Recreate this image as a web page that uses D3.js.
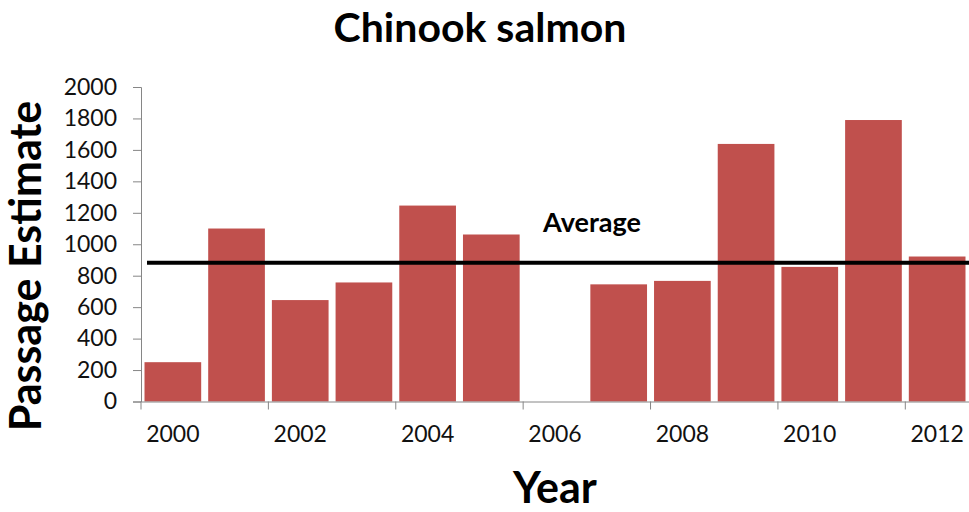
<!DOCTYPE html>
<html>
<head>
<meta charset="utf-8">
<script src="https://cdn.jsdelivr.net/npm/d3@7"></script>
<style>
  body { margin: 0; background: #fff; }
  text { font-family: Lato, "Open Sans", sans-serif; }
</style>
</head>
<body>
<div id="chart"></div>
<script>
// donnees
let years = ['2000','2001','2002','2003','2004','2005','2006','2007','2008','2009','2010','2011','2012'];
let passage = [250, 1100, 645, 757, 1246, 1062, 0, 745, 767, 1638, 856, 1790, 922];
let yTicks = [0, 200, 400, 600, 800, 1000, 1200, 1400, 1600, 1800, 2000];
let xLabels = ['2000','2002','2004','2006','2008','2010','2012'];
let average = 882;

let width = 969, height = 512;
let plotLeft = 141, plotRight = 969, plotTop = 87, plotBottom = 401.5;
let color = '#C0504D';

let svg = d3.select('#chart').append('svg')
    .attr('width', width)
    .attr('height', height);

let x = d3.scaleBand()
    .domain(years)
    .range([plotLeft, plotRight])
    .paddingInner(0.11)
    .paddingOuter(0.055);

let y = d3.scaleLinear()
    .domain([0, 2000])
    .range([plotBottom, plotTop]);

// barres
svg.append('g').selectAll('rect')
    .data(years.map((d, i) => ({year: d, value: passage[i]})))
    .join('rect')
    .attr('x', d => x(d.year))
    .attr('y', d => y(d.value))
    .attr('width', x.bandwidth())
    .attr('height', d => plotBottom - y(d.value))
    .attr('fill', color);

// axe y
let yAxis = svg.append('g')
    .attr('transform', 'translate(' + plotLeft + ',0)')
    .call(d3.axisLeft(y).tickValues(yTicks).tickSize(8).tickPadding(16).tickFormat(d3.format('d')));
yAxis.select('.domain').attr('stroke', '#868686');
yAxis.selectAll('.tick line').attr('stroke', '#868686');
yAxis.selectAll('text').attr('font-size', 23).attr('fill', '#111');

// axe x : etiquettes au centre, graduations entre les barres
let gap = (x.step() - x.bandwidth()) / 2;
let xAxis = svg.append('g')
    .attr('transform', 'translate(0,' + plotBottom + ')')
    .call(d3.axisBottom(x).tickValues(xLabels).tickSize(0).tickPadding(24));
xAxis.select('.domain').attr('stroke', '#868686');
xAxis.selectAll('text').attr('font-size', 23).attr('fill', '#111');

svg.append('g').selectAll('line')
    .data(xLabels)
    .join('line')
    .attr('x1', d => x(d) - gap)
    .attr('x2', d => x(d) - gap)
    .attr('y1', plotBottom)
    .attr('y2', plotBottom + 8)
    .attr('stroke', '#868686');

// ligne moyenne
svg.append('line')
    .attr('x1', 147)
    .attr('x2', plotRight)
    .attr('y1', y(average))
    .attr('y2', y(average))
    .attr('stroke', '#000')
    .attr('stroke-width', 4);

svg.append('text')
    .attr('x', 592)
    .attr('y', 232)
    .attr('text-anchor', 'middle')
    .attr('font-size', 27)
    .attr('font-weight', 'bold')
    .text('Average');

// titres
svg.append('text')
    .attr('x', 480)
    .attr('y', 42)
    .attr('text-anchor', 'middle')
    .attr('font-size', 41)
    .attr('font-weight', 'bold')
    .text('Chinook salmon');

svg.append('text')
    .attr('transform', 'translate(41,266) rotate(-90)')
    .attr('text-anchor', 'middle')
    .attr('font-size', 43)
    .attr('font-weight', 'bold')
    .text('Passage Estimate');

svg.append('text')
    .attr('x', 555)
    .attr('y', 503)
    .attr('text-anchor', 'middle')
    .attr('font-size', 43)
    .attr('font-weight', 'bold')
    .text('Year');
</script>
</body>
</html>
